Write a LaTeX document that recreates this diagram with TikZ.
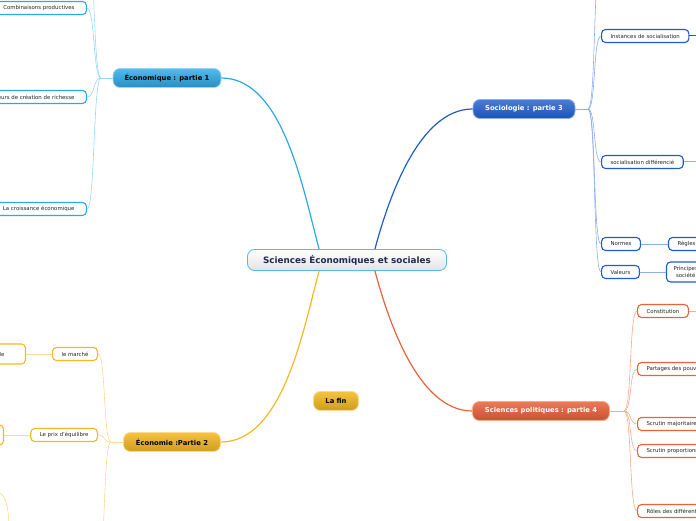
\documentclass[tikz,border=0pt]{standalone}
\usepackage{fontspec}
\setmainfont{DejaVu Sans}
\usepackage{xcolor}
\usepackage{tikz}
\usetikzlibrary{positioning}

\definecolor{bleuciel}{HTML}{2BA8E6}
\definecolor{bleucielpale}{HTML}{9AD6F4}
\definecolor{bleunuit}{HTML}{1D5CCC}
\definecolor{bleunuitpale}{HTML}{8CAEEE}
\definecolor{orangep}{HTML}{E8623A}
\definecolor{orangepale}{HTML}{F6AA8C}
\definecolor{jaunep}{HTML}{F5B820}
\definecolor{jaunepale}{HTML}{FBD98E}
\definecolor{encre}{HTML}{1E2A50}

\begin{document}
\begin{tikzpicture}[x=1pt, y=1pt,
        central/.style={draw=bleuciel!80!white, line width=0.8pt, rounded corners=7pt, top color=white, bottom color=gray!22, text=encre, font=\fontsize{8.8}{10}\bfseries\selectfont, minimum width=199pt, minimum height=21pt},
        theme/.style={rounded corners=7pt, line width=0.8pt, font=\fontsize{6.8}{8}\bfseries\selectfont, minimum height=19pt, inner xsep=0pt},
        feuille/.style={draw, fill=white, rounded corners=4pt, line width=1.1pt, text=black!85, font=\fontsize{5.4}{6.2}\selectfont, minimum height=13pt, inner xsep=9pt, inner ysep=1pt},
        droite/.style={to path={(\tikztostart) .. controls +(8,0) and +(-8,0) .. (\tikztotarget)}},
        gauche/.style={to path={(\tikztostart) .. controls +(-8,0) and +(8,0) .. (\tikztotarget)}}]
        \useasboundingbox (0,0) rectangle (696,520);
        \clip (0,0) rectangle (696,520);
%
        \node[central] (sec) at (347,260) {Sciences Économiques et sociales};
        \node[theme, draw=bleucielpale, top color=bleuciel!80!white, bottom color=bleuciel!85!black, minimum width=108pt] (eco1) at (167,442) {Économique : partie 1};
        \node[theme, draw=bleunuitpale, top color=bleunuit!80!white, bottom color=bleunuit!90!black, text=white, minimum width=102pt] (socio) at (524,411) {Sociologie : partie 3};
        \node[theme, draw=orangepale, top color=orangep!85!white, bottom color=orangep!85!black, text=white, minimum width=137pt] (polit) at (541,109) {Sciences politiques : partie 4};
        \node[theme, draw=jaunepale, top color=jaunep!85!white, bottom color=jaunep!85!black, minimum width=97pt] (eco2) at (172,78) {Économie :Partie 2};
        \node[theme, draw=jaunepale, top color=jaunep!85!white, bottom color=jaunep!85!black, minimum width=45pt] (lafin) at (336,119) {La fin};
%
        \coordinate (c1) at ([xshift=72pt]sec.north west);
        \coordinate (c3) at ([xshift=-72pt]sec.north east);
        \coordinate (c2) at ([xshift=72pt]sec.south west);
        \coordinate (c4) at ([xshift=-72pt]sec.south east);
        \path[line width=1.2pt]
        (c1) edge [draw=bleuciel, out=105, in=0, looseness=0.8] (eco1.east)
        (c3) edge [draw=bleunuit, out=75, in=180, looseness=0.8] (socio.west)
        (c4) edge [draw=orangep, out=-75, in=180, looseness=0.8] (polit.west)
        (c2) edge [draw=jaunep, out=-105, in=0, looseness=0.8] (eco2.east);
%
        % Économique : partie 1
        \node[feuille, draw=bleuciel, anchor=east, inner xsep=12pt] (combi) at (87,512) {Combinaisons productives};
        \node[feuille, draw=bleuciel, anchor=east, inner xsep=12pt] (facteurs) at (87,423) {Facteurs de création de richesse};
        \node[feuille, draw=bleuciel, anchor=east, inner xsep=12pt] (croiss) at (87,311) {La croissance économique};
        \coordinate (j1) at (101,442);
        \coordinate (haut1) at (87,580);
        \path[draw=bleucielpale, line width=0.6pt]
        (eco1.west) edge (j1)
        (j1) edge [gauche] (combi.east)
            edge [gauche] (facteurs.east)
            edge [gauche] (croiss.east)
            edge [gauche] (haut1);
%
        % Sociologie : partie 3
        \node[feuille, draw=bleunuit, anchor=west] (instances) at (601,484) {Instances de socialisation};
        \node[feuille, draw=bleunuit, anchor=west] (socdiff) at (601,358) {socialisation différencié};
        \node[feuille, draw=bleunuit, anchor=west] (normes) at (601,276) {Normes};
        \node[feuille, draw=bleunuit, anchor=west] (valeurs) at (601,248) {Valeurs};
        \node[feuille, draw=bleunuit, right=27pt of normes] (regles) {Règles};
        \node[feuille, draw=bleunuit, right=26pt of valeurs, align=center, minimum height=20pt, inner xsep=7pt] (principes) {Principes\\société};
        \coordinate (j3) at (588,411);
        \coordinate (haut3) at (601,560);
        \coordinate (instsuite) at (700,484);
        \coordinate (socsuite) at (700,358);
        \path[draw=bleunuitpale, line width=0.6pt]
        (socio.east) edge (j3)
        (j3) edge [droite] (haut3)
            edge [droite] (instances.west)
            edge [droite] (socdiff.west)
            edge [droite] (normes.west)
            edge [droite] (valeurs.west)
        (normes) edge (regles)
        (valeurs) edge (principes);
        \path[draw=bleunuit, line width=1pt]
        (instances) edge (instsuite)
        (socdiff) edge [draw=bleunuitpale] (socsuite);
%
        % Sciences politiques : partie 4
        \node[feuille, draw=orangep, anchor=west] (constit) at (637,209) {Constitution};
        \node[feuille, draw=orangep, anchor=west] (partages) at (637,151) {Partages des pouvoirs};
        \node[feuille, draw=orangep, anchor=west] (scrmaj) at (637,96) {Scrutin majoritaire};
        \node[feuille, draw=orangep, anchor=west] (scrprop) at (637,69) {Scrutin proportionnel};
        \node[feuille, draw=orangep, anchor=west] (roles) at (637,9) {Rôles des différents acteurs};
        \coordinate (j4) at (624,109);
        \coordinate (constsuite) at (700,209);
        \path[draw=orangepale, line width=0.6pt]
        (polit.east) edge (j4)
        (j4) edge [droite] (constit.west)
            edge [droite] (partages.west)
            edge [droite] (scrmaj.west)
            edge [droite] (scrprop.west)
            edge [droite] (roles.west)
        (constit) edge (constsuite);
%
        % Économie :Partie 2
        \node[feuille, draw=jaunep, anchor=east] (marche) at (98,166) {le marché};
        \node[feuille, draw=jaunep, anchor=east] (prix) at (98,85) {Le prix d'équilibre};
        \node[feuille, draw=jaunep, anchor=east, minimum height=20pt, inner xsep=21pt] (marchedef) at (26,166) {de};
        \node[feuille, draw=jaunep, anchor=east, minimum height=20pt, minimum width=40pt] (prixdef) at (4,85) {};
        \coordinate (j2) at (111,78);
        \coordinate (bas2) at (98,-40);
        \coordinate (bg1) at (-5,28);
        \coordinate (bg2) at (9,-5);
        \path[draw=jaunepale, line width=0.6pt]
        (eco2.west) edge (j2)
        (j2) edge [gauche] (marche.east)
            edge [gauche] (prix.east)
            edge [gauche] (bas2)
        (marche) edge (marchedef)
        (prix) edge (prixdef)
        (bg1) edge [to path={.. controls (6,28) and (8,15) .. (\tikztotarget)}] (bg2);
\end{tikzpicture}
\end{document}
